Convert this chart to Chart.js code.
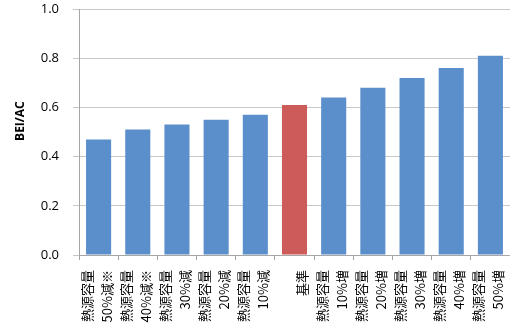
<!DOCTYPE html>
<html>
<head>
<meta charset="utf-8">
<script src="https://cdn.jsdelivr.net/npm/chart.js@4/dist/chart.umd.min.js"></script>
<style>
  html, body { margin: 0; padding: 0; background: #fff; overflow: hidden; }
  #wrap { width: 510px; height: 326px; }
</style>
</head>
<body>
<div id="wrap"><canvas id="myChart" width="510" height="326"></canvas></div>
<script>
// categories (two-line labels) and BEI/AC values
const categories = [
  ['熱源容量', '50%減※'],
  ['熱源容量', '40%減※'],
  ['熱源容量', '30%減'],
  ['熱源容量', '20%減'],
  ['熱源容量', '10%減'],
  ['', '基準'],
  ['熱源容量', '10%増'],
  ['熱源容量', '20%増'],
  ['熱源容量', '30%増'],
  ['熱源容量', '40%増'],
  ['熱源容量', '50%増'],
];
const beiValues = [0.47, 0.51, 0.53, 0.55, 0.57, 0.61, 0.64, 0.68, 0.72, 0.76, 0.81];
const yTicks = [0.0, 0.2, 0.4, 0.6, 0.8, 1.0];
const baseIndex = 5; // 基準 bar is drawn in red

const BLUE = '#5b8fcc';
const RED = '#cd5b59';
const barColors = categories.map((c, i) => (i === baseIndex ? RED : BLUE));

const ctx = document.getElementById('myChart').getContext('2d');
new Chart(ctx, {
  type: 'bar',
  data: {
    labels: categories,
    datasets: [{
      data: beiValues,
      backgroundColor: barColors,
      borderWidth: 0,
      categoryPercentage: 1.0,
      barPercentage: 0.64,
    }],
  },
  options: {
    responsive: false,
    animation: false,
    layout: { padding: { top: 9, right: 0, left: 0, bottom: 0 } },
    plugins: {
      legend: { display: false },
      tooltip: { enabled: false },
    },
    scales: {
      x: {
        offset: true,
        grid: {
          offset: true,
          drawOnChartArea: false,
          drawTicks: true,
          tickLength: 5,
          color: '#a6a6a6',
        },
        border: { color: '#a6a6a6' },
        ticks: {
          autoSkip: false,
          maxRotation: 90,
          minRotation: 90,
          padding: 10,
          labelOffset: -12,
          color: '#000',
          font: { family: '"Noto Sans CJK JP"', size: 13, lineHeight: 1.54 },
        },
        afterFit: scale => {
          scale.height = 71;
          scale.paddingLeft = 0;
          scale.paddingRight = 0;
        },
      },
      y: {
        min: 0,
        max: 1,
        afterBuildTicks: scale => { scale.ticks = yTicks.map(v => ({ value: v })); },
        grid: {
          color: '#c8c8c8',
          tickLength: 6,
        },
        border: { color: '#a6a6a6' },
        ticks: {
          padding: 14,
          color: '#000',
          font: { family: '"Open Sans", sans-serif', size: 13 },
          callback: v => v.toFixed(1),
        },
        title: {
          display: true,
          // leading spaces nudge the rotated title a little above the axis centre, as in the original
          text: '       BEI/AC',
          color: '#000',
          font: { family: '"Open Sans", sans-serif', size: 12, weight: 'bold' },
          padding: { top: 13, bottom: 0 },
        },
        afterFit: scale => {
          scale.width = 79;
          scale.paddingTop = 0;
          scale.paddingBottom = 0;
        },
      },
    },
  },
});
</script>
</body>
</html>
